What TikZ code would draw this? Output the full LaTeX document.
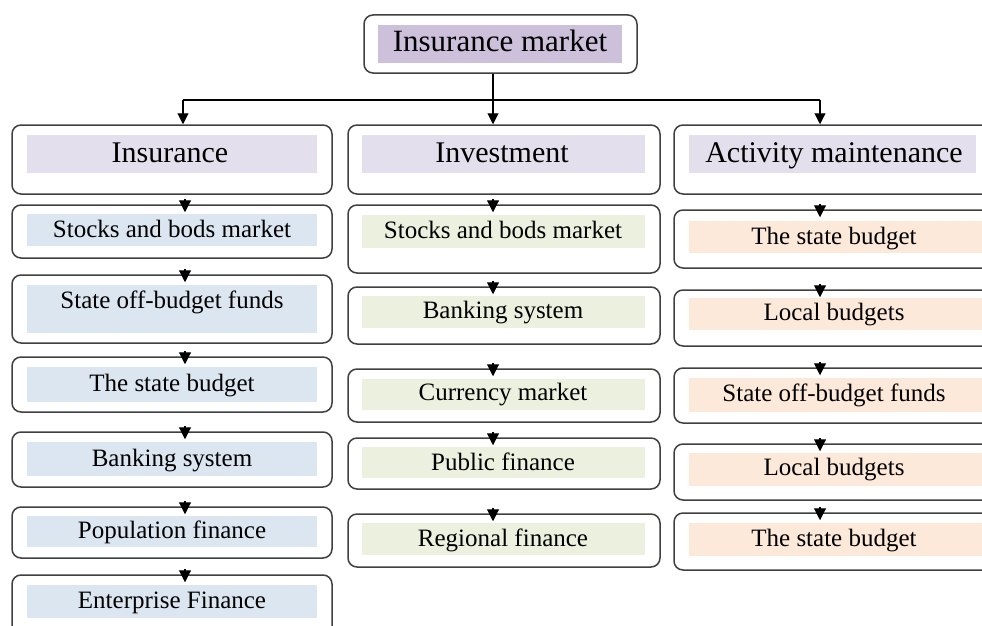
\documentclass[tikz,border=0pt]{standalone}
\usepackage{fontspec}
\setmainfont{Liberation Serif}
\usetikzlibrary{arrows.meta}

\definecolor{framegray}{HTML}{404040}
\definecolor{titlefill}{HTML}{CCC0DA}
\definecolor{headfill}{HTML}{E4DFEC}
\definecolor{bluefill}{HTML}{DCE6F1}
\definecolor{greenfill}{HTML}{EBF1DE}
\definecolor{peachfill}{HTML}{FDE9D9}

\tikzset{
  frame/.style={draw=framegray, line width=1.5pt, rounded corners=9pt, fill=white, inner sep=0pt},
  band/.style={fill=#1, inner sep=0pt},
  itemtext/.style={font=\fontsize{25}{28}\selectfont, inner sep=0pt, anchor=base},
  headtext/.style={font=\fontsize{30}{34}\selectfont, inner sep=0pt, anchor=base},
  titletext/.style={font=\fontsize{31}{35}\selectfont, inner sep=0pt, anchor=base},
  flow/.style={-{Triangle[width=11pt,length=11pt]}, line width=1.1pt, black},
  headonly/.style={-{Triangle[width=12pt,length=12pt]}, line width=1.1pt, black},
  link/.style={line width=1.1pt, black},
}

\begin{document}
\begin{tikzpicture}[x=1pt,y=-1pt]
\useasboundingbox (0,0) rectangle (982,626);
\clip (0,0) rectangle (982,626);

% top node
\node[frame, minimum width=273pt, minimum height=58pt] (top) at (500.5,44) {};
\node[band=titlefill, minimum width=244pt, minimum height=38pt] (topf) at (500,44) {};
\node[titletext] (topt) at (500,52) {Insurance market};

% column 1: insurance
\node[frame, minimum width=320pt, minimum height=69pt] (ins) at (172,159.5) {};
\node[band=headfill, minimum width=290pt, minimum height=38pt] (insf) at (172,154) {};
\node[headtext] (inst) at (170,162) {Insurance};

\node[frame, minimum width=320pt, minimum height=53pt] (a1) at (172,231.5) {};
\node[band=bluefill, minimum width=290pt, minimum height=32pt] (a1f) at (172,230) {};
\node[itemtext] (a1t) at (172,237) {Stocks and bods market};

\node[frame, minimum width=320pt, minimum height=68pt] (a2) at (172,309) {};
\node[band=bluefill, minimum width=290pt, minimum height=48pt] (a2f) at (172,309) {};
\node[itemtext] (a2t) at (172,308) {State off-budget funds};

\node[frame, minimum width=320pt, minimum height=55pt] (a3) at (172,384.5) {};
\node[band=bluefill, minimum width=290pt, minimum height=35pt] (a3f) at (172,384.5) {};
\node[itemtext] (a3t) at (172,391) {The state budget};

\node[frame, minimum width=320pt, minimum height=55pt] (a4) at (172,459.5) {};
\node[band=bluefill, minimum width=290pt, minimum height=34pt] (a4f) at (172,459) {};
\node[itemtext] (a4t) at (172,466) {Banking system};

\node[frame, minimum width=320pt, minimum height=51pt] (a5) at (172,532.5) {};
\node[band=bluefill, minimum width=290pt, minimum height=31pt] (a5f) at (172,531.5) {};
\node[itemtext] (a5t) at (172,538) {Population finance};

\node[frame, minimum width=320pt, minimum height=65pt] (a6) at (172,607.5) {};
\node[band=bluefill, minimum width=290pt, minimum height=33pt] (a6f) at (172,601.5) {};
\node[itemtext] (a6t) at (172,608) {Enterprise Finance};

% column 2: investment
\node[frame, minimum width=312pt, minimum height=69pt] (inv) at (504,159.5) {};
\node[band=headfill, minimum width=283pt, minimum height=38pt] (invf) at (503.5,154) {};
\node[headtext] (invt) at (502,162) {Investment};

\node[frame, minimum width=312pt, minimum height=68pt] (b1) at (504,239) {};
\node[band=greenfill, minimum width=283pt, minimum height=33pt] (b1f) at (503.5,231.5) {};
\node[itemtext] (b1t) at (503,238) {Stocks and bods market};

\node[frame, minimum width=312pt, minimum height=57pt] (b2) at (504,315.5) {};
\node[band=greenfill, minimum width=283pt, minimum height=32pt] (b2f) at (503.5,312) {};
\node[itemtext] (b2t) at (503,318) {Banking system};

\node[frame, minimum width=312pt, minimum height=53pt] (b3) at (504,395.5) {};
\node[band=greenfill, minimum width=283pt, minimum height=31pt] (b3f) at (503.5,394.5) {};
\node[itemtext] (b3t) at (503,400) {Currency market};

\node[frame, minimum width=312pt, minimum height=51pt] (b4) at (504,463.5) {};
\node[band=greenfill, minimum width=283pt, minimum height=31pt] (b4f) at (503.5,462.5) {};
\node[itemtext] (b4t) at (503,470) {Public finance};

\node[frame, minimum width=312pt, minimum height=53pt] (b5) at (504,540.5) {};
\node[band=greenfill, minimum width=283pt, minimum height=32pt] (b5f) at (503.5,539) {};
\node[itemtext] (b5t) at (503,546) {Regional finance};

% column 3: activity maintenance
\node[frame, minimum width=326pt, minimum height=69pt] (act) at (837,159.5) {};
\node[band=headfill, minimum width=287pt, minimum height=38pt] (actf) at (832.5,154) {};
\node[headtext] (actt) at (834,162) {Activity maintenance};

\node[frame, minimum width=326pt, minimum height=58pt] (c1) at (837,239) {};
\node[band=peachfill, minimum width=294pt, minimum height=32pt] (c1f) at (836,237) {};
\node[itemtext] (c1t) at (834,244) {The state budget};

\node[frame, minimum width=326pt, minimum height=56pt] (c2) at (837,318) {};
\node[band=peachfill, minimum width=294pt, minimum height=32pt] (c2f) at (836,314) {};
\node[itemtext] (c2t) at (834,320) {Local budgets};

\node[frame, minimum width=326pt, minimum height=55pt] (c3) at (837,395.5) {};
\node[band=peachfill, minimum width=294pt, minimum height=34pt] (c3f) at (836,395) {};
\node[itemtext] (c3t) at (834,401) {State off-budget funds};

\node[frame, minimum width=326pt, minimum height=56pt] (c4) at (837,472) {};
\node[band=peachfill, minimum width=294pt, minimum height=33pt] (c4f) at (836,469.5) {};
\node[itemtext] (c4t) at (834,475) {Local budgets};

\node[frame, minimum width=326pt, minimum height=57pt] (c5) at (837,541.5) {};
\node[band=peachfill, minimum width=294pt, minimum height=33pt] (c5f) at (836,539.5) {};
\node[itemtext] (c5t) at (834,546) {The state budget};

% connector lanes
\coordinate (laneA) at (185,0);
\coordinate (laneB) at (493,0);
\coordinate (laneC) at (820,0);
\coordinate (busL) at (183,100);
\coordinate (busR) at (820,100);

% distribution from the top node
\draw[link] (busL) -- (busR);
\draw[flow] (laneB |- top.south) -- (laneB |- inv.north);
\draw[flow] (busL) -- (busL |- ins.north);
\draw[flow] (busR) -- (busR |- act.north);

% chains inside the columns: a short head sitting on the next box's top edge
\foreach \lane/\v in {laneA/a1, laneA/a2, laneA/a3, laneA/a4, laneA/a5, laneA/a6,
                      laneB/b1, laneB/b2, laneB/b3, laneB/b4, laneB/b5,
                      laneC/c1, laneC/c2, laneC/c3, laneC/c4, laneC/c5} {
  \coordinate (entry) at (\lane |- \v.north);
  \draw[headonly] ([yshift=5pt]entry) -- ([yshift=-8pt]entry);
}
\end{tikzpicture}
\end{document}
